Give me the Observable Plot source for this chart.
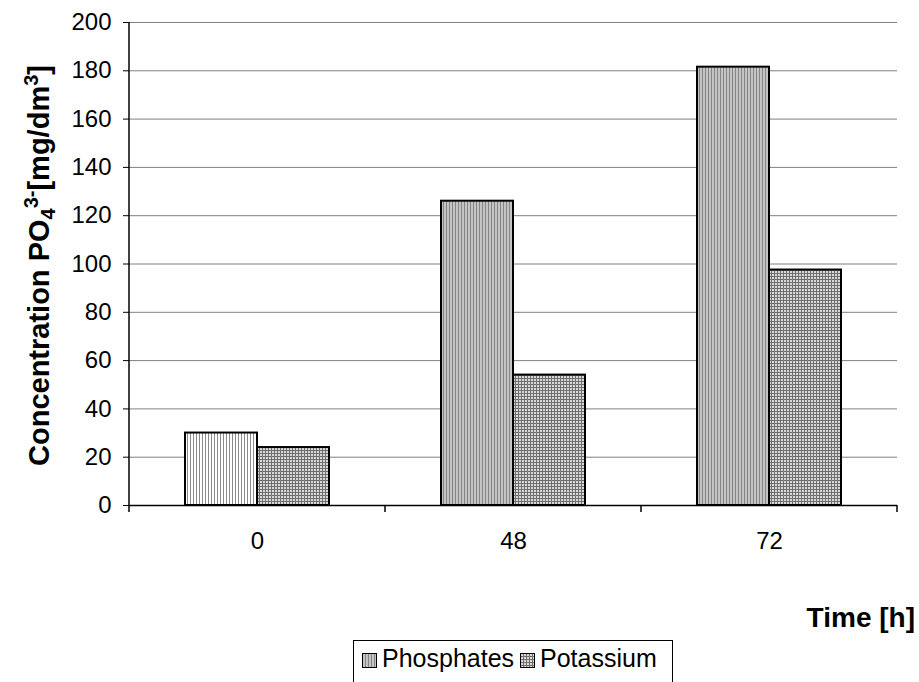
<!DOCTYPE html>
<html>
<head>
<meta charset="utf-8">
<script src="https://cdn.jsdelivr.net/npm/d3@7"></script>
<script src="https://cdn.jsdelivr.net/npm/@observablehq/plot@0.6"></script>
<style>
  body { margin: 0; background: white; font-family: "Liberation Sans", Arial, sans-serif; }
  #wrap { position: relative; width: 919px; height: 682px; overflow: hidden; }
  #legend { position: absolute; left: 353px; top: 640px; width: 320px; height: 60px; border: 1px solid black; box-sizing: border-box; font-size: 25px; line-height: 30px; color: black; }
  #legend .item { position: absolute; top: 2px; white-space: nowrap; }
  #legend svg { vertical-align: -1px; margin-right: 5px; }
</style>
</head>
<body>
<div id="wrap"></div>
<script>
const times = ["0", "48", "72"];
const series = ["Phosphates", "Potassium"];
const phosphates = [30, 126, 181.5];
const potassium = [24, 54, 97.5];
const yTicks = [0, 20, 40, 60, 80, 100, 120, 140, 160, 180, 200];

const data = [];
times.forEach((t, i) => {
  data.push({time: t, series: "Phosphates", value: phosphates[i]});
  data.push({time: t, series: "Potassium", value: potassium[i]});
});

const barStyle = {fx: "time", x: "series", y: "value", stroke: "black", strokeWidth: 2, inset: 0};

const chart = Plot.plot({
  width: 919,
  height: 640,
  marginTop: 22,
  marginBottom: 135,
  marginLeft: 128,
  marginRight: 21,
  style: {fontFamily: "'Liberation Sans', Arial, sans-serif", fontSize: "24px", color: "black", background: "white", overflow: "visible"},
  fx: {domain: times, padding: 0, label: null},
  x: {domain: series, paddingInner: 0, paddingOuter: 0.77, axis: null},
  y: {domain: [0, 200]},
  marks: [
    Plot.gridY(yTicks, {stroke: "#808080", strokeOpacity: 1, strokeWidth: 1}),
    Plot.barY(data, {...barStyle, filter: d => d.series === "Phosphates" && d.time === times[0], fill: "url(#pv-white)"}),
    Plot.barY(data, {...barStyle, filter: d => d.series === "Phosphates" && d.time !== times[0], fill: "url(#pv-gray)"}),
    Plot.barY(data, {...barStyle, filter: d => d.series === "Potassium", fill: "url(#pgrid)"}),
    Plot.ruleY([0], {stroke: "black", strokeWidth: 1.5}),
    Plot.axisY({ticks: yTicks, tickSize: 6, tickPadding: 12, label: null, fontSize: 24}),
    Plot.axisFx({anchor: "bottom", tickSize: 0, tickPadding: 26, label: null, fontSize: 24})
  ]
});

const svg = d3.select(chart);
const defs = svg.insert("defs", ":first-child");
function vpat(id, bg, line) {
  const p = defs.append("pattern").attr("id", id).attr("patternUnits", "userSpaceOnUse").attr("width", 3).attr("height", 3);
  p.append("rect").attr("width", 3).attr("height", 3).attr("fill", bg);
  p.append("rect").attr("x", 0).attr("width", 1).attr("height", 3).attr("fill", line);
}
vpat("pv-white", "#ffffff", "#8a8a8a");
vpat("pv-gray", "#c4c4c4", "#858585");
{
  const p = defs.append("pattern").attr("id", "pgrid").attr("patternUnits", "userSpaceOnUse").attr("width", 3).attr("height", 3);
  p.append("rect").attr("width", 3).attr("height", 3).attr("fill", "#d8d8d8");
  p.append("rect").attr("width", 1).attr("height", 3).attr("fill", "#707070");
  p.append("rect").attr("width", 3).attr("height", 1).attr("fill", "#707070");
}

// axis lines and category boundary ticks using the chart's scales
const ys = chart.scale("y");
const fxs = chart.scale("fx");
const y0 = ys.apply(0), y200 = ys.apply(200);
const left = fxs.apply(times[0]);
const bw = fxs.bandwidth;
const g = svg.append("g").attr("stroke", "black").attr("stroke-width", 1.5);
g.append("line").attr("x1", left).attr("x2", left).attr("y1", y200).attr("y2", y0 + 7);
times.forEach((t, i) => {
  const xb = fxs.apply(t) + bw;
  g.append("line").attr("x1", xb).attr("x2", xb).attr("y1", y0).attr("y2", y0 + 7);
});

// axis titles
const yl = svg.append("text")
  .attr("transform", `translate(49,${(y0 + y200) / 2 + 2}) rotate(-90)`)
  .attr("text-anchor", "middle")
  .attr("font-weight", "bold").attr("font-size", 29).attr("fill", "black");
yl.append("tspan").text("Concentration PO");
yl.append("tspan").attr("font-size", 20).attr("dy", 6).text("4");
yl.append("tspan").attr("font-size", 20).attr("dy", -17).text("3-");
yl.append("tspan").attr("dy", 11).text("[mg/dm");
yl.append("tspan").attr("font-size", 20).attr("dy", -11).text("3");
yl.append("tspan").attr("dy", 11).text("]");

svg.append("text").attr("x", 915).attr("y", 627).attr("text-anchor", "end")
  .attr("font-weight", "bold").attr("font-size", 28).attr("fill", "black").text("Time [h]");

const wrap = document.getElementById("wrap");
wrap.appendChild(chart);

// legend
const legend = document.createElement("div");
legend.id = "legend";
const fills = {Phosphates: "url(#pv-gray)", Potassium: "url(#pgrid)"};
const lefts = [8, 166];
series.forEach((s, i) => {
  const it = document.createElement("div");
  it.className = "item";
  it.style.left = lefts[i] + "px";
  it.innerHTML = `<svg width="15" height="15"><rect x="0.5" y="0.5" width="14" height="14" fill="${fills[s]}" stroke="black" stroke-width="1"/></svg>${s}`;
  legend.appendChild(it);
});
wrap.appendChild(legend);
</script>
</body>
</html>
